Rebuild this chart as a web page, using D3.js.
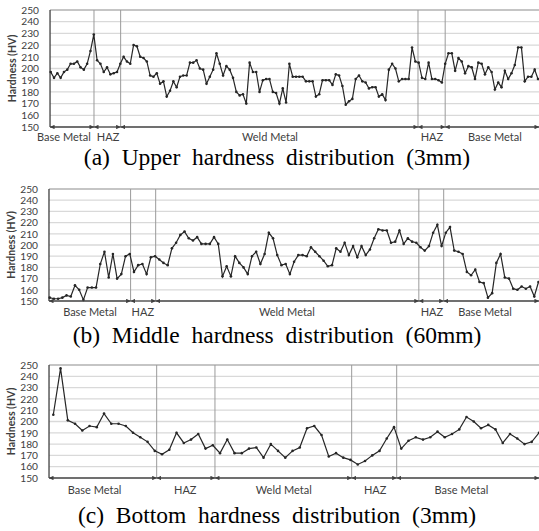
<!DOCTYPE html>
<html>
<head>
<meta charset="utf-8">
<script src="https://cdn.jsdelivr.net/npm/d3@7"></script>
<style>
body { margin: 0; background: #fff; }
</style>
</head>
<body>
<div id="chart-area"></div>
<script>
var width = 539;
var height = 531;

var upperHV = [197, 192, 196, 192, 197, 199, 204, 204, 206, 201, 199, 204, 215, 229, 207, 204, 197, 201, 195, 196,
  197, 204, 210, 206, 204, 220, 219, 210, 209, 206, 194, 193, 196, 187, 189, 176, 181, 189, 184, 193,
  194, 194, 205, 205, 207, 200, 199, 187, 193,
  199, 213, 204, 194, 202, 199, 192, 180, 177, 178, 170, 205, 197, 197, 180, 190, 191, 191, 180, 179,
  170, 183, 171, 204, 193, 193, 193, 193, 189, 189, 189, 176, 178, 190, 190, 190, 186, 195, 194, 185,
  169, 172, 174, 191, 194, 189, 188, 183, 184,
  184, 176, 178, 173, 199, 204, 200, 189, 191, 191, 191, 218, 206, 205, 192, 191, 205, 191, 191, 190,
  188, 204, 213, 213, 198, 209, 206, 196, 202, 201, 191, 205, 204, 195, 201, 197, 182, 188, 184, 198,
  191, 196, 203, 218, 218, 189, 193, 193, 199, 191];

var middleHV = [153, 152, 152, 153, 155, 154, 164, 160, 151, 162, 162, 162, 183, 194, 171, 192, 170, 174, 190, 192,
  176, 182, 183, 174, 189, 190, 187, 184, 182, 197, 202, 209, 212, 206, 204, 207, 201, 201, 201, 207,
  201, 172, 181, 172, 190, 184, 180, 174, 190, 194, 183, 192, 211,
  206, 191, 182, 183, 174, 185, 191, 191, 190, 198, 194, 190, 186, 181, 182, 197, 194, 202, 191, 199,
  189, 199, 191, 196, 206, 214, 213, 213, 202, 203, 213, 201, 206, 203, 202, 198, 195, 199, 211, 218,
  199, 211, 216, 195, 194, 192, 176, 173, 178, 167, 166, 153, 157, 184, 192, 171, 170, 161, 160, 163,
  161, 163, 154, 167];

var bottomHV = [206, 247, 201, 198, 192, 196, 195, 207, 198, 198, 196, 190, 186, 182, 174, 171, 175, 190, 181, 184,
  189, 176, 179, 172, 184, 172, 172, 176, 177, 168, 180,
  174, 168, 174, 177, 194, 196, 188, 169, 172, 168, 166, 162, 165, 170, 174, 185, 195, 176, 183,
  186, 184, 186, 191, 186, 189, 193, 204, 200, 194, 197, 193, 181, 189, 185, 180, 182, 190];

// zone boundaries, in measuring-point index
var upperZones = [-0.2, 13.06, 21.1, 110.8, 119.0, 147.3];
var middleZones = [-0.17, 19.2, 25.15, 87.6, 93.5, 116.1];
var bottomZones = [-0.59, 14.26, 22.3, 41.16, 47.37, 67.0];

var zoneNames = ["Base Metal", "HAZ", "Weld Metal", "HAZ", "Base Metal"];
var upperLabelAt = [4.0, 17.3, 66.15, 115.0, 134.0];
var middleLabelAt = [9.56, 22.1, 56.3, 90.7, 103.3];
var bottomLabelAt = [5.7, 18.2, 31.8, 44.4, 56.3];

var hvTicks = [150, 160, 170, 180, 190, 200, 210, 220, 230, 240, 250];
var yTitle = "Hardness (HV)";
var captions = ["(a)  Upper  hardness  distribution  (3mm)",
                "(b)  Middle  hardness  distribution  (60mm)",
                "(c)  Bottom  hardness  distribution  (3mm)"];

var svg = d3.select("#chart-area").append("svg")
  .attr("width", width)
  .attr("height", height);

var defs = svg.append("defs");
defs.append("marker")
  .attr("id", "arrow")
  .attr("viewBox", "0 0 10 10")
  .attr("refX", 10)
  .attr("refY", 5)
  .attr("markerUnits", "userSpaceOnUse")
  .attr("markerWidth", 5)
  .attr("markerHeight", 4.5)
  .attr("orient", "auto-start-reverse")
  .append("path")
  .attr("d", "M0,0L10,5L0,10Z")
  .attr("fill", "#404040");

// panel layout
var panels = [
  {values: upperHV, zones: upperZones, labelAt: upperLabelAt, caption: captions[0],
   x0: 50.7, x1: 538, top: 10, bottom: 127, labelY: 141, captionY: 165},
  {values: middleHV, zones: middleZones, labelAt: middleLabelAt, caption: captions[1],
   x0: 49.7, x1: 538.5, top: 189, bottom: 301, labelY: 316, captionY: 343},
  {values: bottomHV, zones: bottomZones, labelAt: bottomLabelAt, caption: captions[2],
   x0: 53.3, x1: 539, top: 365, bottom: 478, labelY: 494, captionY: 523}
];

panels.forEach(drawPanel);

function drawPanel(p) {
  var g = svg.append("g");
  var x = d3.scaleLinear().domain([0, p.values.length - 1]).range([p.x0, p.x1]);
  var y = d3.scaleLinear().domain([150, 250]).range([p.bottom, p.top]);
  var left = x(p.zones[0]);

  // horizontal gridlines
  g.selectAll(".grid")
    .data(hvTicks.slice(1, hvTicks.length - 1))
    .enter().append("line")
    .attr("x1", left).attr("x2", width)
    .attr("y1", function(d){ return y(d); })
    .attr("y2", function(d){ return y(d); })
    .attr("stroke", "#d9d9d9")
    .attr("stroke-width", 1.3);

  // top border
  g.append("line")
    .attr("x1", left).attr("x2", width)
    .attr("y1", y(250)).attr("y2", y(250))
    .attr("stroke", "#8c8c8c")
    .attr("stroke-width", 1.2);

  // zone boundaries
  g.selectAll(".zone")
    .data(p.zones.slice(1, p.zones.length - 1))
    .enter().append("line")
    .attr("x1", function(d){ return x(d); })
    .attr("x2", function(d){ return x(d); })
    .attr("y1", y(250)).attr("y2", y(150))
    .attr("stroke", "#9a9a9a")
    .attr("stroke-width", 1);

  // left axis line
  g.append("line")
    .attr("x1", left).attr("x2", left)
    .attr("y1", y(250)).attr("y2", y(150))
    .attr("stroke", "#404040")
    .attr("stroke-width", 1.3);

  // y tick labels
  var yAxis = d3.axisLeft(y).tickValues(hvTicks).tickSize(0).tickPadding(11);
  var ax = g.append("g")
    .attr("transform", "translate(" + left + ",0)")
    .call(yAxis);
  ax.select(".domain").remove();
  ax.selectAll("text")
    .attr("font-family", "Lato, 'Open Sans', sans-serif")
    .attr("font-size", 10.2)
    .attr("fill", "#404040");

  // y title
  g.append("text")
    .attr("transform", "translate(" + (left - 34) + "," + ((y(250) + y(150)) / 2) + ") rotate(-90)")
    .attr("text-anchor", "middle")
    .attr("font-family", "Lato, 'Open Sans', sans-serif")
    .attr("font-weight", "bold")
    .attr("font-size", 10.5)
    .attr("fill", "#404040")
    .text(yTitle);

  // data line
  var line = d3.line()
    .x(function(d, i){ return x(i); })
    .y(function(d){ return y(d); });

  g.append("path")
    .datum(p.values)
    .attr("d", line)
    .attr("fill", "none")
    .attr("stroke", "#262626")
    .attr("stroke-width", 1.2);

  g.selectAll(".pt")
    .data(p.values)
    .enter().append("circle")
    .attr("cx", function(d, i){ return x(i); })
    .attr("cy", function(d){ return y(d); })
    .attr("r", 1.3)
    .attr("fill", "#262626");

  // zone arrows along the bottom
  var segs = d3.pairs(p.zones);
  g.selectAll(".seg")
    .data(segs)
    .enter().append("line")
    .attr("x1", function(d){ return x(d[0]); })
    .attr("x2", function(d){ return x(d[1]); })
    .attr("y1", y(150)).attr("y2", y(150))
    .attr("stroke", "#404040")
    .attr("stroke-width", 1.3)
    .attr("marker-start", "url(#arrow)")
    .attr("marker-end", "url(#arrow)");

  g.selectAll(".zlabel")
    .data(zoneNames)
    .enter().append("text")
    .attr("x", function(d, i){ return x(p.labelAt[i]); })
    .attr("y", p.labelY)
    .attr("text-anchor", "middle")
    .attr("font-family", "Lato, 'Open Sans', sans-serif")
    .attr("font-size", 11)
    .attr("fill", "#404040")
    .text(function(d){ return d; });

  // caption
  g.append("text")
    .attr("x", 277)
    .attr("y", p.captionY)
    .attr("text-anchor", "middle")
    .attr("font-family", "'Liberation Serif', 'Times New Roman', serif")
    .attr("font-size", 23.5)
    .style("white-space", "pre")
    .attr("fill", "#000")
    .text(p.caption);
}
</script>
</body>
</html>
